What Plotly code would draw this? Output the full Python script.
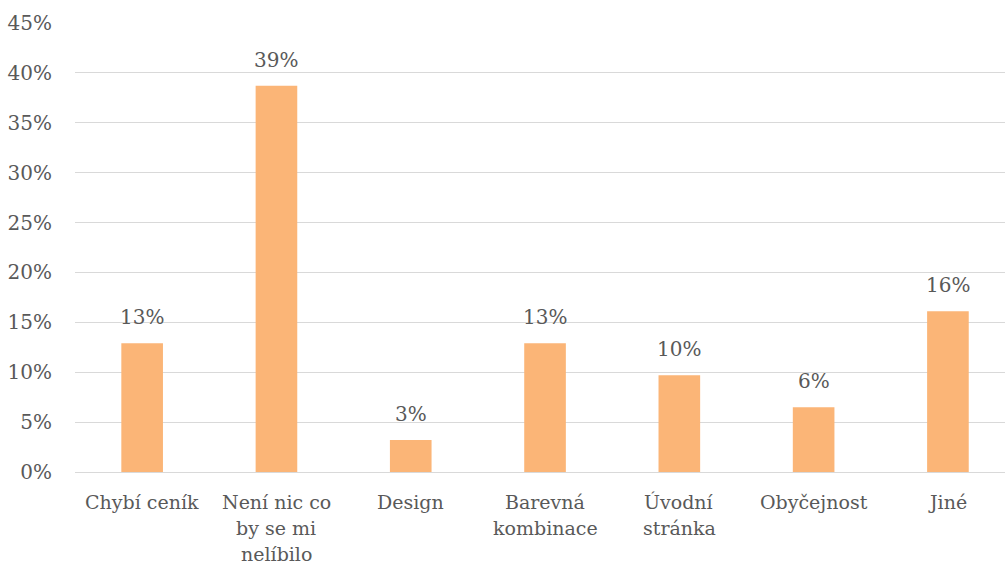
import plotly.graph_objects as go

categories = ["Chybí ceník", "Není nic co<br>by se mi<br>nelíbilo", "Design",
              "Barevná<br>kombinace", "Úvodní<br>stránka", "Obyčejnost", "Jiné"]
values = [0.129, 0.387, 0.032, 0.129, 0.097, 0.065, 0.161]
labels = ["13%", "39%", "3%", "13%", "10%", "6%", "16%"]
tick_vals = [0, 0.05, 0.10, 0.15, 0.20, 0.25, 0.30, 0.35, 0.40, 0.45]
tick_text = ["0%", "5%", "10%", "15%", "20%", "25%", "30%", "35%", "40%", "45%"]

FONT = "DejaVu Serif"
GREY = "#595959"
NUM_SIZE = 20
CAT_SIZE = 19

fig = go.Figure()
fig.add_trace(go.Bar(
    x=categories, y=values, marker=dict(color="#FBB577", line=dict(width=0)),
    width=0.31, hoverinfo="skip",
))
for c, v, t in zip(categories, values, labels):
    fig.add_annotation(x=c, y=v, text=t, showarrow=False, yanchor="bottom",
                       yshift=12, font=dict(family=FONT, size=NUM_SIZE, color=GREY))
# category labels, one annotation per line (tighter line spacing like the original)
for c in categories:
    for j, line in enumerate(c.split("<br>")):
        fig.add_annotation(x=c, y=0, yref="paper", text=line, showarrow=False,
                           yanchor="middle", yshift=-(30 + 26 * j),
                           font=dict(family=FONT, size=CAT_SIZE, color=GREY))

fig.update_layout(
    width=1005, height=567,
    margin=dict(l=75, r=0, t=23, b=95),
    plot_bgcolor="white", paper_bgcolor="white",
    showlegend=False,
    font=dict(family=FONT, size=NUM_SIZE, color=GREY),
    xaxis=dict(range=[-0.5, 6.425], showgrid=False, showline=False, ticks="",
               automargin=False, showticklabels=False),
    yaxis=dict(range=[0, 0.45], tickvals=tick_vals, ticktext=tick_text,
               showgrid=True, gridcolor="#D9D9D9", gridwidth=1.3, automargin=False,
               zeroline=True, zerolinecolor="#D9D9D9", zerolinewidth=1.3,
               showline=False, ticks="",
               tickfont=dict(family=FONT, size=NUM_SIZE, color=GREY), ticklabelstandoff=22),
)

fig.write_html("out.html")
